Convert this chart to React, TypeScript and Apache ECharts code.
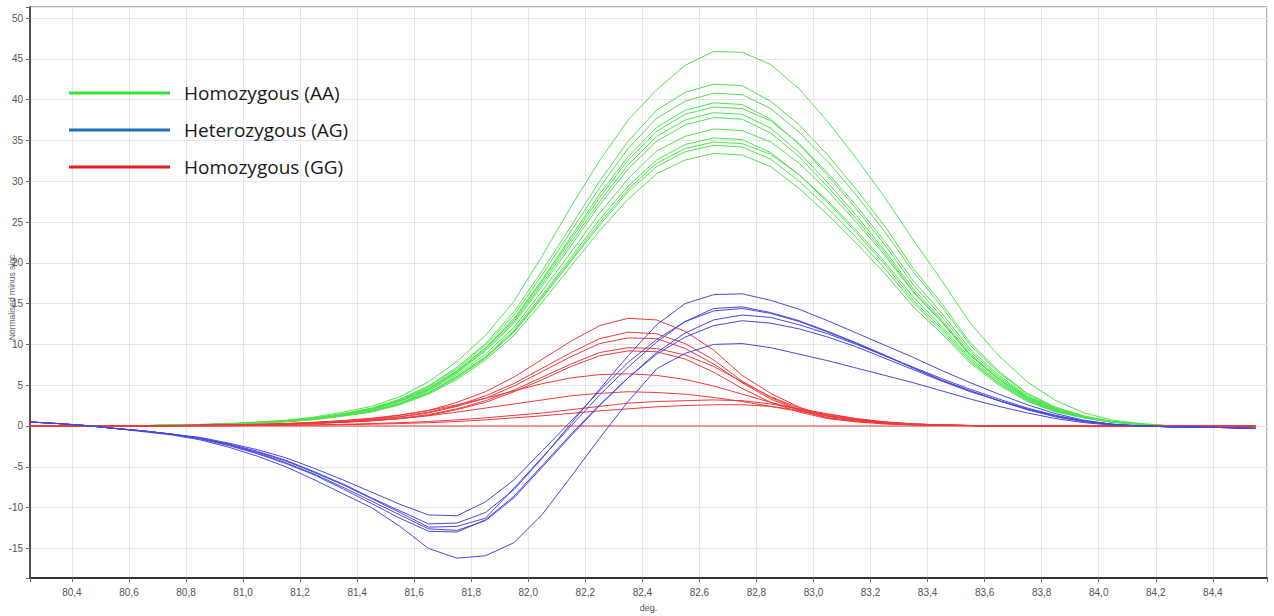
import React, { useEffect, useRef } from "react";
import * as echarts from "echarts";

// Temperature (deg.) sample points
const TEMPS = [
  80.25, 80.35, 80.45, 80.55, 80.65, 80.75, 80.85, 80.95, 81.05, 81.15, 81.25,
  81.35, 81.45, 81.55, 81.65, 81.75, 81.85, 81.95, 82.05, 82.15, 82.25, 82.35,
  82.45, 82.55, 82.65, 82.75, 82.85, 82.95, 83.05, 83.15, 83.25, 83.35, 83.45,
  83.55, 83.65, 83.75, 83.85, 83.95, 84.05, 84.15, 84.25, 84.35, 84.45, 84.55,
];

// Homozygous (AA) curves
const AA_1 = [0, 0, 0, 0, 0.05, 0.1, 0.2, 0.3, 0.5, 0.7, 1.1, 1.7, 2.4, 3.6, 5.4, 7.9, 11.1, 15.3, 20.9, 26.9, 32.5, 37.5, 41.2, 44.2, 45.9, 45.8, 44.3, 41.3, 37.3, 32.8, 28.0, 22.8, 17.8, 12.6, 8.6, 5.4, 3.1, 1.6, 0.7, 0.3, 0.05, -0.05, -0.1, -0.2];
const AA_2 = [0, 0, 0, 0, 0.05, 0.1, 0.16, 0.27, 0.44, 0.65, 1.0, 1.5, 2.2, 3.3, 4.9, 7.2, 10.1, 14.0, 19.1, 24.5, 30.0, 34.9, 38.7, 40.9, 41.9, 41.7, 39.8, 36.9, 33.2, 29.0, 24.5, 19.3, 15.0, 10.2, 6.7, 4.0, 2.3, 1.2, 0.55, 0.2, 0, -0.05, -0.1, -0.2];
const AA_3 = [0, 0, 0, 0, 0.05, 0.1, 0.16, 0.27, 0.42, 0.64, 0.96, 1.5, 2.1, 3.2, 4.8, 7.0, 9.9, 13.6, 18.6, 23.9, 29.2, 34.0, 37.7, 39.8, 40.8, 40.6, 38.9, 36.0, 32.4, 28.3, 23.8, 18.9, 14.6, 9.9, 6.5, 3.9, 2.2, 1.2, 0.5, 0.2, 0, -0.05, -0.1, -0.2];
const AA_4 = [0, 0, 0, 0, 0.05, 0.1, 0.15, 0.26, 0.41, 0.62, 0.93, 1.4, 2.1, 3.1, 4.6, 6.8, 9.6, 13.2, 18.0, 23.2, 28.4, 33.0, 36.6, 38.7, 39.6, 39.4, 37.6, 34.5, 30.7, 26.6, 22.2, 17.3, 13.4, 9.1, 6.0, 3.6, 2.1, 1.1, 0.5, 0.2, 0, -0.05, -0.1, -0.2];
const AA_5 = [0, 0, 0, 0, 0.05, 0.1, 0.15, 0.25, 0.41, 0.61, 0.92, 1.4, 2.0, 3.1, 4.6, 6.7, 9.5, 13.0, 17.8, 22.9, 28.0, 32.6, 36.1, 38.2, 39.1, 38.9, 37.4, 34.6, 31.0, 27.0, 22.6, 17.8, 13.8, 9.4, 6.2, 3.7, 2.1, 1.1, 0.5, 0.2, 0, -0.05, -0.1, -0.2];
const AA_6 = [0, 0, 0, 0, 0.05, 0.1, 0.15, 0.25, 0.4, 0.6, 0.9, 1.4, 2.0, 3.0, 4.5, 6.6, 9.3, 12.8, 17.5, 22.5, 27.5, 32.0, 35.5, 37.5, 38.4, 38.2, 36.5, 33.5, 29.8, 25.8, 21.5, 16.8, 13.0, 8.8, 5.8, 3.5, 2.0, 1.1, 0.5, 0.2, 0, -0.05, -0.1, -0.2];
const AA_7 = [0, 0, 0, 0, 0.05, 0.1, 0.15, 0.25, 0.39, 0.59, 0.89, 1.4, 2.0, 3.0, 4.4, 6.5, 9.2, 12.6, 17.2, 22.1, 27.1, 31.5, 34.9, 36.9, 37.8, 37.6, 35.9, 33.0, 29.3, 25.4, 21.2, 16.5, 12.8, 8.7, 5.7, 3.4, 2.0, 1.1, 0.5, 0.2, 0, -0.05, -0.1, -0.2];
const AA_8 = [0, 0, 0, 0, 0.05, 0.09, 0.14, 0.24, 0.38, 0.57, 0.85, 1.3, 1.9, 2.8, 4.3, 6.3, 8.8, 12.1, 16.6, 21.3, 26.1, 30.3, 33.7, 35.5, 36.4, 36.2, 34.8, 32.2, 28.8, 25.0, 20.9, 16.4, 12.7, 8.6, 5.7, 3.4, 1.9, 1.0, 0.5, 0.2, 0, -0.05, -0.1, -0.2];
const AA_9 = [0, 0, 0, 0, 0.05, 0.09, 0.14, 0.23, 0.37, 0.55, 0.83, 1.3, 1.8, 2.8, 4.1, 6.1, 8.5, 11.8, 16.1, 20.7, 25.3, 29.4, 32.6, 34.5, 35.3, 35.1, 33.5, 30.8, 27.4, 23.7, 19.8, 15.4, 11.9, 8.1, 5.3, 3.2, 1.8, 1.0, 0.5, 0.2, 0, -0.05, -0.1, -0.2];
const AA_10 = [0, 0, 0, 0, 0.05, 0.09, 0.14, 0.23, 0.36, 0.54, 0.82, 1.3, 1.8, 2.7, 4.1, 6.0, 8.4, 11.6, 15.9, 20.4, 24.9, 29.0, 32.2, 34.0, 34.8, 34.6, 33.3, 30.8, 27.6, 24.0, 20.1, 15.8, 12.2, 8.3, 5.5, 3.3, 1.8, 1.0, 0.5, 0.2, 0, -0.05, -0.1, -0.2];
const AA_11 = [0, 0, 0, 0, 0.04, 0.09, 0.13, 0.22, 0.36, 0.54, 0.81, 1.25, 1.8, 2.7, 4.0, 5.9, 8.3, 11.5, 15.7, 20.2, 24.6, 28.7, 31.8, 33.6, 34.4, 34.2, 32.7, 30.0, 26.7, 23.1, 19.3, 15.1, 11.6, 7.9, 5.2, 3.1, 1.8, 1.0, 0.45, 0.2, 0, -0.05, -0.1, -0.2];
const AA_12 = [0, 0, 0, 0, 0.04, 0.09, 0.13, 0.22, 0.35, 0.52, 0.78, 1.2, 1.7, 2.6, 3.9, 5.7, 8.1, 11.1, 15.2, 19.6, 23.9, 27.8, 30.9, 32.6, 33.4, 33.2, 31.8, 29.1, 25.9, 22.4, 18.7, 14.6, 11.3, 7.7, 5.0, 3.0, 1.7, 1.0, 0.4, 0.2, 0, -0.05, -0.1, -0.2];
const AA_CURVES = [AA_1, AA_2, AA_3, AA_4, AA_5, AA_6, AA_7, AA_8, AA_9, AA_10, AA_11, AA_12];

// Heterozygous (AG) curves
const AG_1 = [0.5, 0.3, 0.05, -0.3, -0.6, -1.0, -1.5, -2.2, -3.1, -4.2, -5.6, -7.1, -8.8, -10.4, -12.0, -11.9, -10.6, -7.8, -3.9, 0.3, 4.5, 8.6, 12.4, 15.0, 16.1, 16.2, 15.4, 14.3, 12.9, 11.4, 9.9, 8.4, 6.8, 5.3, 3.9, 2.6, 1.5, 0.7, 0.2, 0, -0.1, -0.15, -0.2, -0.3];
const AG_2 = [0.5, 0.3, 0.05, -0.3, -0.6, -1.0, -1.5, -2.3, -3.2, -4.3, -5.7, -7.2, -8.9, -10.6, -12.4, -12.3, -11.3, -7.6, -3.8, 0, 3.8, 7.2, 10.3, 12.8, 14.4, 14.6, 13.9, 12.9, 11.6, 10.2, 8.7, 7.1, 5.6, 4.3, 3.1, 2.0, 1.1, 0.5, 0.15, 0, -0.1, -0.15, -0.2, -0.3];
const AG_3 = [0.5, 0.3, 0.05, -0.3, -0.6, -1.0, -1.4, -2.1, -2.9, -3.9, -5.2, -6.6, -8.1, -9.6, -10.9, -11.0, -9.3, -6.6, -3.0, 0.6, 4.3, 7.8, 10.6, 12.8, 14.1, 14.4, 13.8, 12.8, 11.5, 10.1, 8.6, 7.1, 5.6, 4.3, 3.1, 2.0, 1.2, 0.6, 0.2, 0, -0.1, -0.15, -0.2, -0.3];
const AG_4 = [0.5, 0.3, 0.05, -0.3, -0.6, -1.0, -1.5, -2.3, -3.3, -4.5, -5.9, -7.5, -9.2, -10.9, -12.6, -12.8, -11.6, -8.8, -5.0, -1.2, 2.5, 5.9, 9.0, 11.4, 13.0, 13.6, 13.3, 12.4, 11.3, 10.0, 8.6, 7.2, 5.8, 4.5, 3.3, 2.2, 1.3, 0.6, 0.2, 0, -0.1, -0.15, -0.2, -0.3];
const AG_5 = [0.5, 0.3, 0.05, -0.3, -0.6, -1.0, -1.6, -2.4, -3.4, -4.6, -6.0, -7.7, -9.5, -11.3, -12.9, -13.0, -11.5, -8.6, -4.8, -1.0, 2.6, 5.9, 8.8, 10.9, 12.3, 12.9, 12.6, 11.9, 10.9, 9.7, 8.3, 6.9, 5.5, 4.2, 3.1, 2.1, 1.2, 0.6, 0.2, 0, -0.1, -0.15, -0.2, -0.3];
const AG_6 = [0.5, 0.3, 0.05, -0.3, -0.7, -1.1, -1.7, -2.6, -3.7, -5.0, -6.6, -8.3, -10.0, -12.3, -15.0, -16.2, -15.9, -14.3, -10.8, -6.2, -1.5, 3.0, 7.0, 8.9, 10.0, 10.1, 9.6, 8.8, 8.0, 7.1, 6.2, 5.3, 4.3, 3.3, 2.4, 1.6, 0.9, 0.4, 0.1, 0, -0.1, -0.15, -0.2, -0.3];
const AG_CURVES = [AG_1, AG_2, AG_3, AG_4, AG_5, AG_6];

// Homozygous (GG) curves
const GG_1 = [0, 0, 0, 0, 0, 0.05, 0.1, 0.15, 0.2, 0.3, 0.45, 0.65, 0.9, 1.3, 1.9, 2.9, 4.2, 6.0, 8.2, 10.4, 12.3, 13.2, 13.0, 11.6, 9.3, 6.2, 4.0, 2.3, 1.2, 0.7, 0.4, 0.2, 0.1, 0.05, 0, 0, 0, 0, 0, 0, 0, 0, 0, 0];
const GG_2 = [0, 0, 0, 0, 0, 0.05, 0.1, 0.13, 0.18, 0.26, 0.4, 0.57, 0.8, 1.15, 1.7, 2.5, 3.7, 5.2, 7.1, 9.0, 10.7, 11.5, 11.3, 10.1, 8.1, 5.5, 3.5, 2.0, 1.0, 0.6, 0.3, 0.15, 0.1, 0.05, 0, 0, 0, 0, 0, 0, 0, 0, 0, 0];
const GG_3 = [0, 0, 0, 0, 0, 0.04, 0.08, 0.12, 0.16, 0.25, 0.37, 0.53, 0.74, 1.1, 1.6, 2.4, 3.4, 4.9, 6.7, 8.5, 10.1, 10.8, 10.7, 9.5, 7.6, 5.3, 3.3, 1.9, 1.0, 0.6, 0.3, 0.15, 0.1, 0.05, 0, 0, 0, 0, 0, 0, 0, 0, 0, 0];
const GG_4 = [0, 0, 0, 0, 0, 0.04, 0.07, 0.11, 0.15, 0.22, 0.33, 0.47, 0.66, 0.95, 1.4, 2.1, 3.1, 4.4, 6.0, 7.6, 9.0, 9.6, 9.5, 8.7, 7.3, 5.4, 3.6, 2.2, 1.2, 0.7, 0.35, 0.18, 0.1, 0.05, 0, 0, 0, 0, 0, 0, 0, 0, 0, 0];
const GG_5 = [0, 0, 0, 0, 0, 0.04, 0.07, 0.1, 0.14, 0.21, 0.31, 0.45, 0.63, 0.9, 1.3, 2.0, 2.9, 4.2, 5.7, 7.3, 8.6, 9.2, 9.1, 8.2, 6.6, 4.6, 2.9, 1.7, 0.9, 0.5, 0.25, 0.12, 0.07, 0.03, 0, 0, 0, 0, 0, 0, 0, 0, 0, 0];
const GG_6 = [0, 0, 0, 0, 0, 0.05, 0.1, 0.15, 0.2, 0.3, 0.45, 0.65, 0.95, 1.35, 1.9, 2.6, 3.4, 4.3, 5.2, 5.9, 6.3, 6.4, 6.2, 5.7, 4.9, 3.9, 2.9, 2.0, 1.3, 0.8, 0.45, 0.25, 0.12, 0.06, 0, 0, 0, 0, 0, 0, 0, 0, 0, 0];
const GG_7 = [0, 0, 0, 0, 0, 0.03, 0.06, 0.1, 0.15, 0.22, 0.32, 0.45, 0.65, 0.9, 1.25, 1.7, 2.2, 2.7, 3.2, 3.7, 4.0, 4.2, 4.1, 3.9, 3.5, 3.0, 2.4, 1.8, 1.2, 0.8, 0.45, 0.25, 0.12, 0.06, 0, 0, 0, 0, 0, 0, 0, 0, 0, 0];
const GG_8 = [0, 0, 0, 0, 0, 0, 0.02, 0.04, 0.06, 0.1, 0.15, 0.2, 0.3, 0.4, 0.55, 0.75, 1.0, 1.3, 1.6, 2.0, 2.4, 2.8, 3.0, 3.1, 3.2, 3.1, 2.7, 2.1, 1.5, 0.9, 0.5, 0.25, 0.12, 0.06, 0, 0, 0, 0, 0, 0, 0, 0, 0, 0];
const GG_9 = [0, 0, 0, 0, 0, 0, 0.01, 0.03, 0.05, 0.08, 0.12, 0.16, 0.22, 0.3, 0.4, 0.55, 0.75, 1.0, 1.25, 1.55, 1.85, 2.1, 2.35, 2.5, 2.6, 2.6, 2.4, 1.9, 1.4, 0.9, 0.5, 0.25, 0.12, 0.06, 0, 0, 0, 0, 0, 0, 0, 0, 0, 0];
const GG_10 = [0, 0, 0, 0, 0, 0, 0, 0, 0, 0, 0, 0, 0, 0, 0, 0, 0, 0, 0, 0, 0, 0, 0, 0, 0, 0, 0, 0, 0, 0, 0, 0, 0, 0, 0, 0, 0, 0, 0, 0, 0, 0, 0, 0];
const GG_CURVES = [GG_1, GG_2, GG_3, GG_4, GG_5, GG_6, GG_7, GG_8, GG_9, GG_10];

const GROUP_NAMES = ["Homozygous (AA)", "Heterozygous (AG)", "Homozygous (GG)"];
const LEGEND_COLORS = ["#35e635", "#1f6dbd", "#e81c1c"];
const CURVE_COLORS = ["#4fe34f", "#4848e0", "#f03a3a"];

const AXIS_FONT = '"Liberation Sans Narrow", "Liberation Sans", Arial, sans-serif';

function isMultiple(v: number, step: number) {
  const r = Math.round(v / step) * step;
  return Math.abs(v - r) < 1e-6;
}

export default function App() {
  const ref = useRef<HTMLDivElement>(null);

  useEffect(() => {
    if (!ref.current) return;
    const chart = echarts.init(ref.current, undefined, { renderer: "svg" });

    const makeSeries = (curves: number[][], gi: number, z: number) =>
      curves.map((c) => ({
        name: GROUP_NAMES[gi],
        type: "line",
        data: TEMPS.map((t, i) => [t, c[i]]),
        symbol: "none",
        showSymbol: false,
        silent: true,
        z,
        lineStyle: { width: 1, color: CURVE_COLORS[gi] },
        itemStyle: { color: CURVE_COLORS[gi] },
      }));

    const series = [
      ...makeSeries(AA_CURVES, 0, 2),
      ...makeSeries(GG_CURVES, 2, 3),
      ...makeSeries(AG_CURVES, 1, 4),
    ];

    chart.setOption({
      animation: false,
      backgroundColor: "#ffffff",
      grid: {
        left: 30,
        right: 7,
        top: 7,
        bottom: 38,
        containLabel: false,
        outerBoundsMode: "none",
        show: true,
        borderColor: "#6a6a6a",
        borderWidth: 1,
        backgroundColor: "transparent",
      },
      legend: {
        orient: "vertical",
        left: 69,
        top: 82,
        padding: 0,
        itemWidth: 101,
        itemHeight: 3,
        itemGap: 15,
        selectedMode: false,
        data: GROUP_NAMES.map((n, i) => ({
          name: n,
          icon: "rect",
          itemStyle: { color: LEGEND_COLORS[i] },
        })),
        textStyle: {
          fontFamily: '"Open Sans", sans-serif',
          fontSize: 19,
          lineHeight: 22,
          color: "#1a1a1a",
          padding: [0, 0, 0, 9],
        },
      },
      xAxis: {
        type: "value",
        min: 80.253,
        max: 84.59,
        splitNumber: 21,
        name: "deg.",
        nameLocation: "middle",
        nameGap: 25,
        nameMoveOverlap: false,
        nameTextStyle: { fontFamily: AXIS_FONT, fontSize: 9, color: "#555" },
        axisLine: { show: true, onZero: false, lineStyle: { color: "#333", width: 2 } },
        axisTick: { show: true, length: 4, lineStyle: { color: "#666" } },
        axisLabel: {
          fontFamily: AXIS_FONT,
          fontSize: 10,
          color: "#555",
          margin: 9,
          formatter: (v: number) => (isMultiple(v, 0.2) ? v.toFixed(1).replace(".", ",") : ""),
        },
        splitLine: { show: true, lineStyle: { color: "#e6e6e6", width: 1 } },
      },
      yAxis: {
        type: "value",
        min: -18.63,
        max: 51.35,
        splitNumber: 14,
        name: "Normalised minus sigc",
        nameLocation: "middle",
        nameRotate: 90,
        nameGap: 14,
        nameMoveOverlap: false,
        nameTextStyle: {
          fontFamily: AXIS_FONT,
          fontSize: 8.5,
          color: "#666",
          padding: [0, 10, 0, 0],
        },
        axisLine: { show: true, onZero: false, lineStyle: { color: "#555", width: 2 } },
        axisTick: { show: true, length: 4, lineStyle: { color: "#666" } },
        axisLabel: {
          fontFamily: AXIS_FONT,
          fontSize: 10,
          color: "#555",
          margin: 7,
          formatter: (v: number) => (isMultiple(v, 5) ? String(Math.round(v)) : ""),
        },
        splitLine: { show: true, lineStyle: { color: "#e6e6e6", width: 1 } },
      },
      series,
    });

    return () => chart.dispose();
  }, []);

  return (
    <div
      ref={ref}
      style={{ position: "fixed", left: 0, top: 0, width: 1274, height: 616, background: "#fff" }}
    />
  );
}
